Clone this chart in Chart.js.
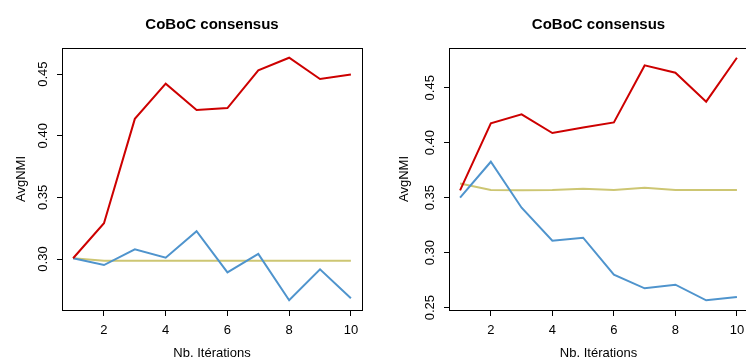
<!DOCTYPE html>
<html>
<head>
<meta charset="utf-8">
<script src="https://cdn.jsdelivr.net/npm/chart.js@4.4.1/dist/chart.umd.min.js"></script>
<style>
  html, body { margin: 0; padding: 0; background: #fff; }
  body { width: 746px; height: 360px; overflow: hidden; position: relative; }
  .panel { position: absolute; top: 0; height: 360px; }
</style>
</head>
<body>
<div class="panel" style="left:0;width:373px"><canvas id="leftChart"></canvas></div>
<div class="panel" style="left:373px;width:380px"><canvas id="rightChart"></canvas></div>
<script>
// données
const iterations = [1, 2, 3, 4, 5, 6, 7, 8, 9, 10];
const xTicks = [2, 4, 6, 8, 10];

const leftRed = [0.3006, 0.3290, 0.4137, 0.4422, 0.4208, 0.4224, 0.4530, 0.4633, 0.4460, 0.4497];
const leftBlue = [0.3006, 0.2951, 0.3079, 0.3011, 0.3225, 0.2892, 0.3041, 0.2665, 0.2916, 0.2681];
const leftYellow = [0.3006, 0.2986, 0.2986, 0.2986, 0.2986, 0.2986, 0.2986, 0.2986, 0.2986, 0.2986];
const leftYTicks = [0.30, 0.35, 0.40, 0.45];

const rightRed = [0.3567, 0.4176, 0.4258, 0.4088, 0.4139, 0.4185, 0.4703, 0.4636, 0.4373, 0.4773];
const rightBlue = [0.3500, 0.3827, 0.3409, 0.3109, 0.3136, 0.2800, 0.2676, 0.2709, 0.2567, 0.2597];
const rightYellow = [0.3630, 0.3570, 0.3567, 0.3570, 0.3582, 0.3570, 0.3591, 0.3570, 0.3570, 0.3570];
const rightYTicks = [0.25, 0.30, 0.35, 0.40, 0.45];

Chart.defaults.font.family = "'Liberation Sans', Arial, Helvetica, sans-serif";
Chart.defaults.color = '#000';

// cadre autour de la zone de tracé (comme box() dans R)
const boxPlugin = {
    id: 'box',
    afterDatasetsDraw(chart) {
        const a = chart.chartArea;
        const ctx = chart.ctx;
        ctx.save();
        ctx.strokeStyle = '#000';
        ctx.lineWidth = 1;
        ctx.strokeRect(Math.round(a.left) + 0.5, Math.round(a.top) + 0.5,
            Math.round(a.right - a.left), Math.round(a.bottom - a.top));
        ctx.restore();
    }
};

// étendue façon R : +/- 4 %
function rRange(values) {
    const lo = Math.min(...values), hi = Math.max(...values);
    const pad = (hi - lo) * 0.04;
    return [lo - pad, hi + pad];
}

function makeChart(id, red, blue, yellow, yTicks, opts) {
    const [xMin, xMax] = rRange(iterations);
    const [yMin, yMax] = rRange(red.concat(blue, yellow));
    const line = (data, color) => ({
        data: data,
        borderColor: color,
        borderWidth: 2,
        pointRadius: 0,
        tension: 0,
        fill: false
    });
    return new Chart(document.getElementById(id), {
        type: 'line',
        data: {
            datasets: [
                line(iterations.map((x, i) => ({x: x, y: red[i]})), '#CD0000'),
                line(iterations.map((x, i) => ({x: x, y: blue[i]})), '#4F94CD'),
                line(iterations.map((x, i) => ({x: x, y: yellow[i]})), '#CDC673')
            ]
        },
        options: {
            responsive: true,
            maintainAspectRatio: false,
            animation: false,
            layout: { padding: { left: 0, right: opts.padRight, top: 0, bottom: 0 } },
            plugins: {
                legend: { display: false },
                tooltip: { enabled: false },
                title: {
                    display: true,
                    text: 'CoBoC consensus',
                    fullSize: false,
                    color: '#000',
                    font: { size: 15, weight: 'bold' },
                    padding: { top: 16, bottom: 14 }
                }
            },
            scales: {
                x: {
                    type: 'linear',
                    min: xMin,
                    max: xMax,
                    afterBuildTicks: s => { s.ticks = xTicks.map(v => ({value: v})); },
                    afterFit: s => { s.height = 50; },
                    grid: { display: true, drawOnChartArea: false, tickLength: 6, color: '#000' },
                    border: { display: false },
                    ticks: { font: { size: 13 }, padding: 7, color: '#000', maxRotation: 0 },
                    title: { display: true, text: 'Nb. Itérations', font: { size: 13 }, padding: { top: 0, bottom: -1.5 } }
                },
                y: {
                    type: 'linear',
                    min: yMin,
                    max: yMax,
                    afterBuildTicks: s => { s.ticks = yTicks.map(v => ({value: v})); },
                    afterFit: s => { s.width = opts.axisWidth; },
                    grid: { display: true, drawOnChartArea: false, tickLength: 5, color: '#000' },
                    border: { display: false },
                    ticks: {
                        font: { size: 13 }, padding: 1, color: '#000',
                        minRotation: 90, maxRotation: 90, crossAlign: 'center',
                        callback: v => v.toFixed(2)
                    },
                    title: { display: true, text: 'AvgNMI', font: { size: 13 }, padding: { top: opts.titleOffset, bottom: 0 } }
                }
            }
        },
        plugins: [boxPlugin]
    });
}

makeChart('leftChart', leftRed, leftBlue, leftYellow, leftYTicks, { padRight: 11, axisWidth: 62, titleOffset: 14 });
makeChart('rightChart', rightRed, rightBlue, rightYellow, rightYTicks, { padRight: 5, axisWidth: 76, titleOffset: 24 });
</script>
</body>
</html>
